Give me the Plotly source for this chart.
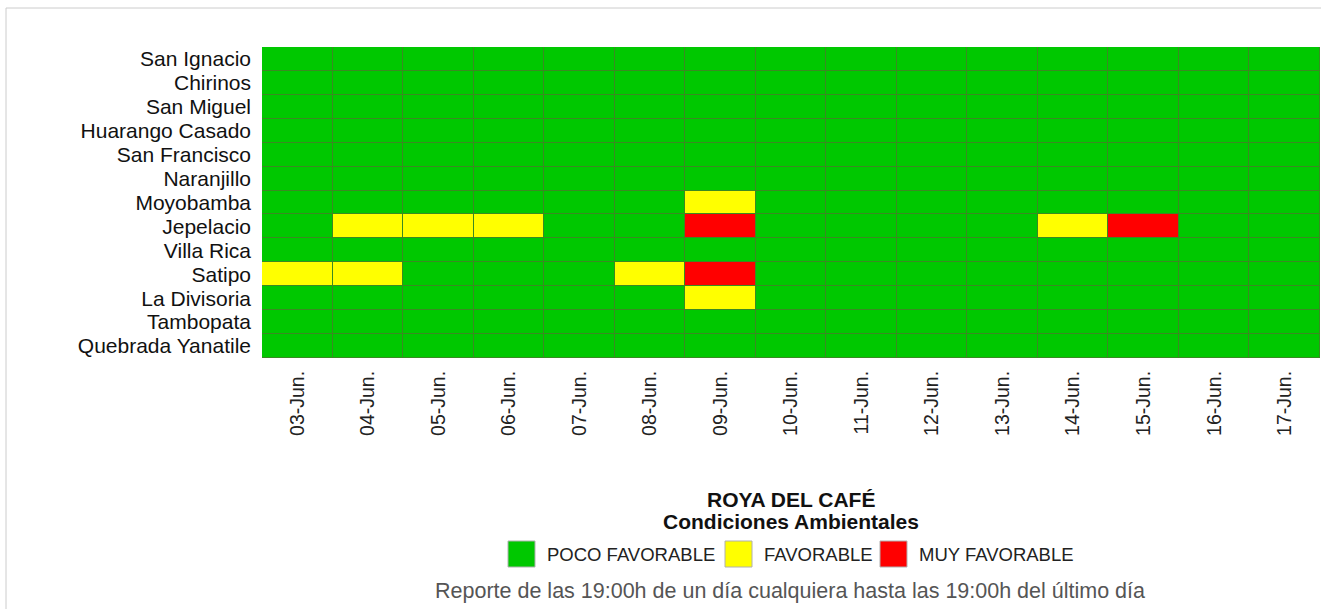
import plotly.graph_objects as go

# ---------------- data ----------------
dates = ["03-Jun.", "04-Jun.", "05-Jun.", "06-Jun.", "07-Jun.", "08-Jun.", "09-Jun.",
         "10-Jun.", "11-Jun.", "12-Jun.", "13-Jun.", "14-Jun.", "15-Jun.", "16-Jun.", "17-Jun."]
places = ["San Ignacio", "Chirinos", "San Miguel", "Huarango Casado", "San Francisco",
          "Naranjillo", "Moyobamba", "Jepelacio", "Villa Rica", "Satipo", "La Divisoria",
          "Tambopata", "Quebrada Yanatile"]
# 0 = POCO FAVORABLE, 1 = FAVORABLE, 2 = MUY FAVORABLE
san_ignacio       = [0, 0, 0, 0, 0, 0, 0, 0, 0, 0, 0, 0, 0, 0, 0]
chirinos          = [0, 0, 0, 0, 0, 0, 0, 0, 0, 0, 0, 0, 0, 0, 0]
san_miguel        = [0, 0, 0, 0, 0, 0, 0, 0, 0, 0, 0, 0, 0, 0, 0]
huarango_casado   = [0, 0, 0, 0, 0, 0, 0, 0, 0, 0, 0, 0, 0, 0, 0]
san_francisco     = [0, 0, 0, 0, 0, 0, 0, 0, 0, 0, 0, 0, 0, 0, 0]
naranjillo        = [0, 0, 0, 0, 0, 0, 0, 0, 0, 0, 0, 0, 0, 0, 0]
moyobamba         = [0, 0, 0, 0, 0, 0, 1, 0, 0, 0, 0, 0, 0, 0, 0]
jepelacio         = [0, 1, 1, 1, 0, 0, 2, 0, 0, 0, 0, 1, 2, 0, 0]
villa_rica        = [0, 0, 0, 0, 0, 0, 0, 0, 0, 0, 0, 0, 0, 0, 0]
satipo            = [1, 1, 0, 0, 0, 1, 2, 0, 0, 0, 0, 0, 0, 0, 0]
la_divisoria      = [0, 0, 0, 0, 0, 0, 1, 0, 0, 0, 0, 0, 0, 0, 0]
tambopata         = [0, 0, 0, 0, 0, 0, 0, 0, 0, 0, 0, 0, 0, 0, 0]
quebrada_yanatile = [0, 0, 0, 0, 0, 0, 0, 0, 0, 0, 0, 0, 0, 0, 0]

levels = ["POCO FAVORABLE", "FAVORABLE", "MUY FAVORABLE"]
level_colors = ["#00c800", "#ffff00", "#ff0000"]
legend_title1 = "ROYA DEL CAFÉ"
legend_title2 = "Condiciones Ambientales"
footer = "Reporte de las 19:00h de un día cualquiera hasta las 19:00h del último día"

z = [san_ignacio, chirinos, san_miguel, huarango_casado, san_francisco, naranjillo,
     moyobamba, jepelacio, villa_rica, satipo, la_divisoria, tambopata, quebrada_yanatile]

# ---------------- layout geometry (pixels) ----------------
W, H = 1321, 609
L, R, T, B = 262, 1, 47, 251
pw, ph = W - L - R, H - T - B

def px(x):
    return (x - L) / pw

def py(y):
    return (H - B - y) / ph

FONT = "Liberation Sans, Arial, sans-serif"

colorscale = [[0.0, level_colors[0]], [1 / 3, level_colors[0]],
              [1 / 3, level_colors[1]], [2 / 3, level_colors[1]],
              [2 / 3, level_colors[2]], [1.0, level_colors[2]]]

fig = go.Figure(go.Heatmap(
    z=z, x=dates, y=places, zmin=-0.5, zmax=2.5,
    colorscale=colorscale, showscale=False, xgap=1, ygap=1,
    hoverinfo="x+y",
))

shapes = [
    dict(type="rect", xref="paper", yref="paper", x0=px(6), x1=px(1340), y0=py(8), y1=py(640),
         line=dict(color="#cccccc", width=1), fillcolor="rgba(0,0,0,0)", layer="below"),
]
annotations = [
    dict(text="<b>" + legend_title1 + "</b>", x=px(791), y=py(499), xref="paper", yref="paper",
         showarrow=False, xanchor="center", yanchor="middle",
         font=dict(family=FONT, size=21, color="#111111")),
    dict(text="<b>" + legend_title2 + "</b>", x=px(791), y=py(521), xref="paper", yref="paper",
         showarrow=False, xanchor="center", yanchor="middle",
         font=dict(family=FONT, size=21, color="#111111")),
    dict(text=footer, x=px(790), y=py(591), xref="paper", yref="paper",
         showarrow=False, xanchor="center", yanchor="middle",
         font=dict(family=FONT, size=21.5, color="#555555")),
]
sq_x = [508, 725, 880]
txt_x = [545, 762, 917]
for lev, col, sx, tx in zip(levels, level_colors, sq_x, txt_x):
    shapes.append(dict(type="rect", xref="paper", yref="paper",
                       x0=px(sx), x1=px(sx + 27), y0=py(567), y1=py(541),
                       fillcolor=col, line=dict(color="#b0b0b0", width=1)))
    annotations.append(dict(text=lev, x=px(tx), y=py(554), xref="paper", yref="paper",
                            showarrow=False, xanchor="left", yanchor="middle",
                            font=dict(family=FONT, size=18.5, color="#222222")))

fig.update_layout(
    width=W, height=H,
    margin=dict(l=L, r=R, t=T, b=B, pad=0),
    paper_bgcolor="white", plot_bgcolor="#3a8a22",
    font=dict(family=FONT, color="#111111"),
    shapes=shapes, annotations=annotations,
    showlegend=False,
)
fig.update_xaxes(tickangle=-90, tickfont=dict(size=19.5, color="#222222"), showgrid=False,
                 zeroline=False, showline=False, ticks="", ticklabelstandoff=8,
                 tickmode="array", tickvals=dates, ticktext=dates)
fig.update_yaxes(autorange="reversed", tickfont=dict(size=21, color="#111111"), showgrid=False,
                 zeroline=False, showline=False, ticks="", ticklabelstandoff=10,
                 tickmode="array", tickvals=places, ticktext=places)

fig.write_html("out.html", config={"displayModeBar": False},
               post_script="document.body.style.margin='0';")
